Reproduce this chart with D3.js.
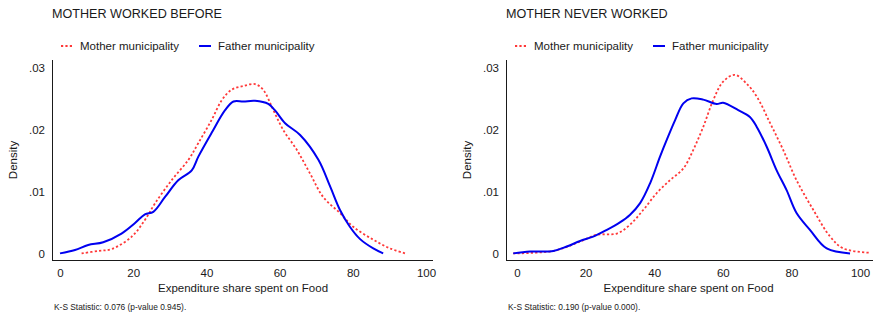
<!DOCTYPE html>
<html>
<head>
<meta charset="utf-8">
<script src="https://cdn.jsdelivr.net/npm/d3@7"></script>
<style>
	body { margin: 0; background: #fff; }
	svg { display: block; font-family: "Liberation Sans", Arial, Helvetica, sans-serif; }
	.axis text { font-size: 11.5px; fill: #1a1a1a; }
</style>
</head>
<body>
<svg id="chart" width="873" height="312"></svg>
<script>
// Values: [expenditure share, density]
var workedMother = [[5.9,0.0001],[10.5,0.0005],[14.1,0.0008],[19.6,0.0028],[23.2,0.0055],[26.0,0.0082],[30.5,0.0119],[35.1,0.0152],[37.8,0.0179],[41.4,0.0216],[44.2,0.0248],[46.9,0.0265],[50.1,0.0271],[53.3,0.0274],[55.5,0.0265],[58.3,0.0232],[61.0,0.0200],[64.7,0.0168],[68.3,0.0130],[71.9,0.0092],[76.5,0.0066],[80.1,0.0044],[85.6,0.0023],[90.2,0.0009],[94.3,0.0001]];
var workedFather = [[0,0.0001],[4.1,0.00065],[7.7,0.00145],[11.8,0.0019],[16.8,0.0033],[20.5,0.0050],[23.2,0.0064],[25.5,0.0068],[28.7,0.0092],[32.3,0.0119],[36.0,0.0135],[37.8,0.0157],[41.4,0.0195],[45.1,0.0232],[47.4,0.0246],[50.1,0.0246],[53.3,0.0247],[56.9,0.0242],[58.7,0.0232],[61.5,0.0211],[65.6,0.0192],[70.6,0.0152],[73.8,0.0109],[76.5,0.0071],[79.2,0.0044],[82.0,0.0024],[85.6,0.0009],[88.3,0.0001]];
var neverMother = [[-1.1,0.0001],[10.6,0.0005],[18.4,0.0020],[23.2,0.0031],[29.1,0.0033],[32.9,0.0047],[36.8,0.0071],[40.7,0.0098],[44.6,0.0119],[48.5,0.0138],[51.4,0.0168],[54.3,0.0205],[57.2,0.0248],[60.1,0.0278],[63.5,0.0289],[66.9,0.0275],[69.9,0.0254],[73.8,0.0211],[77.6,0.0168],[81.5,0.0119],[86.4,0.0071],[91.3,0.0028],[95.1,0.0009],[102.9,0.0002]];
var neverFather = [[-1.1,0.0001],[3.8,0.0004],[10.6,0.0005],[14.5,0.0012],[18.4,0.0021],[22.2,0.0028],[26.2,0.0039],[30.0,0.0051],[32.9,0.0063],[35.9,0.0082],[38.8,0.0114],[41.7,0.0157],[43.8,0.0186],[46.1,0.0216],[48.5,0.0243],[50.9,0.0251],[54.3,0.0249],[58.2,0.0242],[60.1,0.0244],[64.5,0.0232],[67.9,0.0221],[69.9,0.0205],[72.8,0.0173],[75.7,0.0135],[78.6,0.0103],[81.5,0.0066],[85.4,0.0039],[90.3,0.0009],[97.1,0.0001]];

var panelTitles = ["MOTHER WORKED BEFORE", "MOTHER NEVER WORKED"];
var ksNotes = ["K-S Statistic: 0.076 (p-value 0.945).", "K-S Statistic: 0.190 (p-value 0.000)."];
var seriesNames = ["Mother municipality", "Father municipality"];
var xTicks = [0, 20, 40, 60, 80, 100];
var yTicks = [0, 0.01, 0.02, 0.03];
var yTickLabels = ["0", ".01", ".02", ".03"];
var xTitle = "Expenditure share spent on Food";
var yTitle = "Density";

var red = "#ff3838";
var blue = "#0000f0";
var ink = "#1a1a1a";

var svg = d3.select("#chart");

// geometry of each panel
var panels = [
	{ title: panelTitles[0], note: ksNotes[0], mother: workedMother, father: workedFather,
		axisX: 52.5, axisEnd: 433, x0: 60, x100: 426, yLabelX: 17, legendX: 61 },
	{ title: panelTitles[1], note: ksNotes[1], mother: neverMother, father: neverFather,
		axisX: 506.5, axisEnd: 873, x0: 517, x100: 860, yLabelX: 471, legendX: 515 }
];

var yScale = d3.scaleLinear().domain([0, 0.03]).range([254, 68]);
var axisY = 260.5;

panels.forEach(function(p) {
	var g = svg.append("g");
	var x = d3.scaleLinear().domain([0, 100]).range([p.x0, p.x100]);

	// title
	g.append("text")
		.attr("x", p.axisX - 0.5)
		.attr("y", 18)
		.style("font-size", "12.6px")
		.style("fill", ink)
		.text(p.title);

	// legend
	var leg = g.append("g").attr("transform", "translate(" + p.legendX + ",46)");
	leg.append("line")
		.attr("x1", 0).attr("x2", 12)
		.attr("stroke", red).attr("stroke-width", 1.8)
		.attr("stroke-dasharray", "2.2,2.2");
	leg.append("text")
		.attr("x", 19).attr("y", 4)
		.style("font-size", "11.5px").style("fill", ink)
		.text(seriesNames[0]);
	leg.append("line")
		.attr("x1", 138).attr("x2", 150)
		.attr("stroke", blue).attr("stroke-width", 2);
	leg.append("text")
		.attr("x", 157).attr("y", 4)
		.style("font-size", "11.5px").style("fill", ink)
		.text(seriesNames[1]);

	// axes
	var yAxis = g.append("g")
		.attr("class", "axis")
		.attr("transform", "translate(" + p.axisX + ",0)")
		.call(d3.axisLeft(yScale)
			.tickValues(yTicks)
			.tickSize(0)
			.tickPadding(7.5)
			.tickFormat(function(d, i) { return yTickLabels[i]; }));
	yAxis.select(".domain").remove();

	var xAxis = g.append("g")
		.attr("class", "axis")
		.attr("transform", "translate(0," + axisY + ")")
		.call(d3.axisBottom(x)
			.tickValues(xTicks)
			.tickSize(0)
			.tickPadding(8.5));
	xAxis.select(".domain").remove();

	g.append("line")
		.attr("x1", p.axisX).attr("x2", p.axisX)
		.attr("y1", 60).attr("y2", axisY + 0.5)
		.attr("stroke", ink).attr("stroke-width", 1);
	g.append("line")
		.attr("x1", p.axisX - 0.5).attr("x2", p.axisEnd)
		.attr("y1", axisY).attr("y2", axisY)
		.attr("stroke", ink).attr("stroke-width", 1);

	// axis titles
	g.append("text")
		.attr("transform", "translate(" + p.yLabelX + ",160) rotate(-90)")
		.attr("text-anchor", "middle")
		.style("font-size", "11.5px").style("fill", ink)
		.text(yTitle);
	g.append("text")
		.attr("x", (p.x0 + p.x100) / 2)
		.attr("y", 292)
		.attr("text-anchor", "middle")
		.style("font-size", "11.5px").style("fill", ink)
		.text(xTitle);

	// note
	g.append("text")
		.attr("x", p.axisX + 1.5)
		.attr("y", 309.5)
		.style("font-size", "8.4px").style("fill", ink)
		.text(p.note);

	var line = d3.line()
		.x(function(d) { return x(d[0]); })
		.y(function(d) { return yScale(d[1]); })
		.curve(d3.curveCatmullRom.alpha(0.5));

	g.append("path")
		.datum(p.mother)
		.attr("d", line)
		.attr("fill", "none")
		.attr("stroke", red)
		.attr("stroke-width", 1.8)
		.attr("stroke-dasharray", "2.2,2.2");

	g.append("path")
		.datum(p.father)
		.attr("d", line)
		.attr("fill", "none")
		.attr("stroke", blue)
		.attr("stroke-width", 2);
});
</script>
</body>
</html>
